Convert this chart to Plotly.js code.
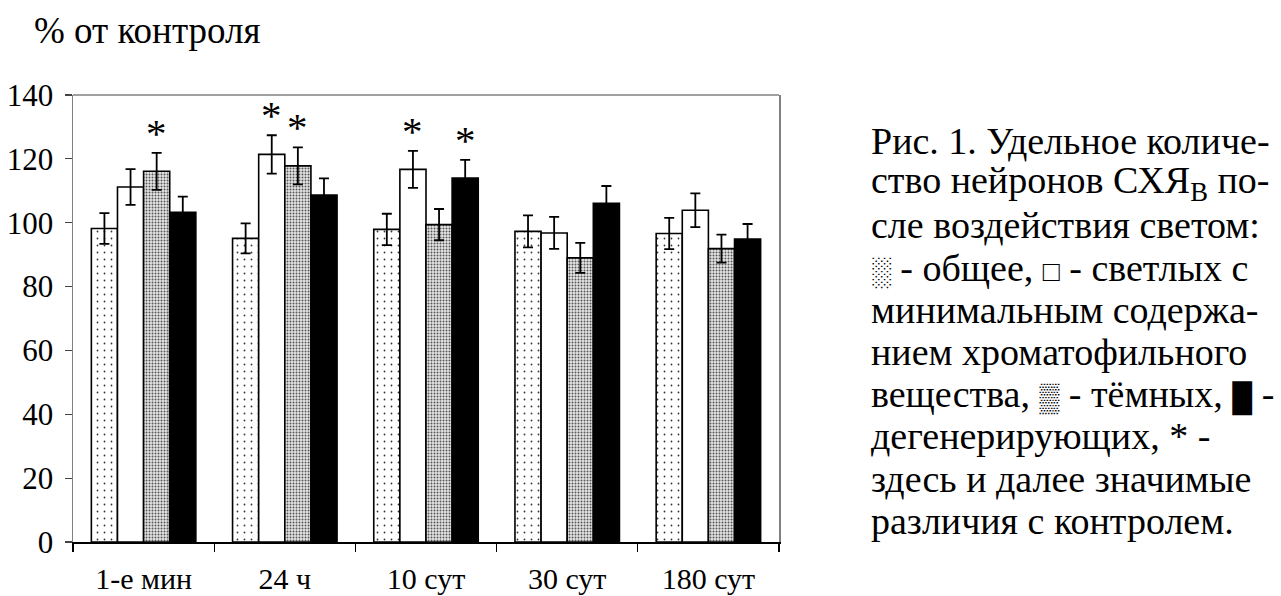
<!DOCTYPE html>
<html>
<head>
<meta charset="utf-8">
<script src="https://cdn.plot.ly/plotly-3.0.1.min.js"></script>
<style>
  html, body { margin: 0; padding: 0; background: #fff; }
  #chart { width: 1281px; height: 596px; }
  #chart svg text { font-family: 'Liberation Serif', 'Times New Roman', serif !important; }
</style>
</head>
<body>
<div id="chart"></div>
<script>
// ---- data ----
const categories = ['1-е мин', '24 ч', '10 сут', '30 сут', '180 сут'];

const obshchee     = [98.2, 95.1, 97.9, 97.3, 96.6];
const obshcheeErr  = [4.8, 4.7, 4.9, 5.0, 4.9];

const svetlye      = [111.2, 121.4, 116.7, 96.8, 103.9];
const svetlyeErr   = [5.6, 6.0, 5.8, 5.0, 5.3];

const temnye       = [116.1, 117.8, 99.4, 89.0, 91.9];
const temnyeErr    = [5.8, 5.8, 4.9, 4.7, 4.4];

const degen        = [103.3, 108.7, 114.0, 106.1, 94.9];
const degenErr     = [4.9, 5.2, 5.7, 5.4, 4.7];

const obshcheeSig  = [false, false, false, false, false];
const svetlyeSig   = [false, true, true, false, false];
const temnyeSig    = [true, true, false, false, false];
const degenSig     = [false, false, true, false, false];

const yTicks = [0, 20, 40, 60, 80, 100, 120, 140];

const yTitle = '% от контроля';
const sw = g => '<span style="font-size:28px">' + g + '</span>';
const captionLines = [
  'Рис. 1. Удельное количе-',
  'ство нейронов СХЯ<sub>В</sub> по-',
  'сле воздействия светом:',
  sw('░') + ' - общее, ' + sw('□') + ' - светлых с',
  'минимальным содержа-',
  'нием хроматофильного',
  'вещества, ' + sw('▒') + ' - тёмных, ' + sw('█') + ' -',
  'дегенерирующих, * -',
  'здесь и далее значимые',
  'различия с контролем.'
];

// ---- chart ----
const SERIF = 'Liberation Serif';
const bargap = 0.26;
const nSeries = 4;
const barW = (1 - bargap) / nSeries;

const outline = { color: '#000', width: 1.6 };
const errStyle = arr => ({ type: 'data', array: arr, visible: true, color: '#000', thickness: 1.8, width: 5 });

const traces = [
  {
    type: 'bar', x: categories, y: obshchee, error_y: errStyle(obshcheeErr),
    marker: { color: '#fff', line: outline,
      pattern: { shape: '.', fgcolor: '#333', bgcolor: '#fff', size: 7, solidity: 0.05 } }
  },
  {
    type: 'bar', x: categories, y: svetlye, error_y: errStyle(svetlyeErr),
    marker: { color: '#fff', line: outline }
  },
  {
    type: 'bar', x: categories, y: temnye, error_y: errStyle(temnyeErr),
    marker: { color: '#d4d4d4', line: outline,
      pattern: { shape: '.', fgcolor: '#555', bgcolor: '#e6e6e6', size: 3, solidity: 0.35 } }
  },
  {
    type: 'bar', x: categories, y: degen, error_y: errStyle(degenErr),
    marker: { color: '#000', line: outline }
  }
];

const annotations = [];
const seriesVals = [obshchee, svetlye, temnye, degen];
const seriesErr = [obshcheeErr, svetlyeErr, temnyeErr, degenErr];
const seriesSig = [obshcheeSig, svetlyeSig, temnyeSig, degenSig];
seriesSig.forEach((sig, s) => {
  sig.forEach((flag, i) => {
    if (!flag) return;
    annotations.push({
      xref: 'x', yref: 'y',
      x: i + (s - (nSeries - 1) / 2) * barW,
      y: seriesVals[s][i] + seriesErr[s][i],
      text: '*', showarrow: false, yanchor: 'bottom', xanchor: 'center',
      yshift: -5,
      font: { family: SERIF, size: 41, color: '#000' }
    });
  });
});

// y-axis title as horizontal text above the axis
annotations.push({
  xref: 'paper', yref: 'paper', x: -0.058, y: 1.145,
  xanchor: 'left', yanchor: 'middle', showarrow: false,
  text: yTitle, font: { family: SERIF, size: 37, color: '#000' }
});

// caption, one annotation per line
const capTop = 141, capStep = 42.2, plotTop = 95, plotBottom = 542, plotLeft = 73, plotW = 706;
captionLines.forEach((line, k) => {
  const py = capTop + capStep * k;
  annotations.push({
    xref: 'paper', yref: 'paper',
    x: (869 - plotLeft) / plotW, y: (plotBottom - py) / (plotBottom - plotTop),
    xanchor: 'left', yanchor: 'middle', align: 'left', showarrow: false,
    text: line, font: { family: SERIF, size: 38, color: '#000' }
  });
});

const layout = {
  width: 1281, height: 596,
  margin: { l: 73, r: 502, t: 95, b: 54, pad: 0 },
  paper_bgcolor: '#fff', plot_bgcolor: '#fff',
  barmode: 'group', bargap: bargap, bargroupgap: 0,
  showlegend: false,
  font: { family: SERIF, color: '#000' },
  xaxis: {
    type: 'category', showline: true, linecolor: '#000', linewidth: 1.5,
    ticks: 'outside', tickson: 'boundaries', ticklen: 8, tickcolor: '#000', tickwidth: 1.2,
    tickfont: { family: SERIF, size: 30, color: '#000' },
    ticklabelstandoff: 9,
    showgrid: false, zeroline: false, fixedrange: true
  },
  yaxis: {
    range: [0, 140], tickvals: yTicks, showline: true, mirror: true, linecolor: '#808080', linewidth: 1.5,
    ticks: 'outside', ticklen: 7, tickcolor: '#444', tickwidth: 1.2,
    tickfont: { family: SERIF, size: 31, color: '#000' },
    ticklabelstandoff: 5,
    showgrid: false, zeroline: false, fixedrange: true
  },
  shapes: [
    { type: 'line', xref: 'paper', yref: 'paper', x0: 0, x1: 1, y0: 1, y1: 1,
      line: { color: '#808080', width: 1.5 } }
  ],
  annotations: annotations
};

Plotly.newPlot('chart', traces, layout, { staticPlot: true, displayModeBar: false });
</script>
</body>
</html>
